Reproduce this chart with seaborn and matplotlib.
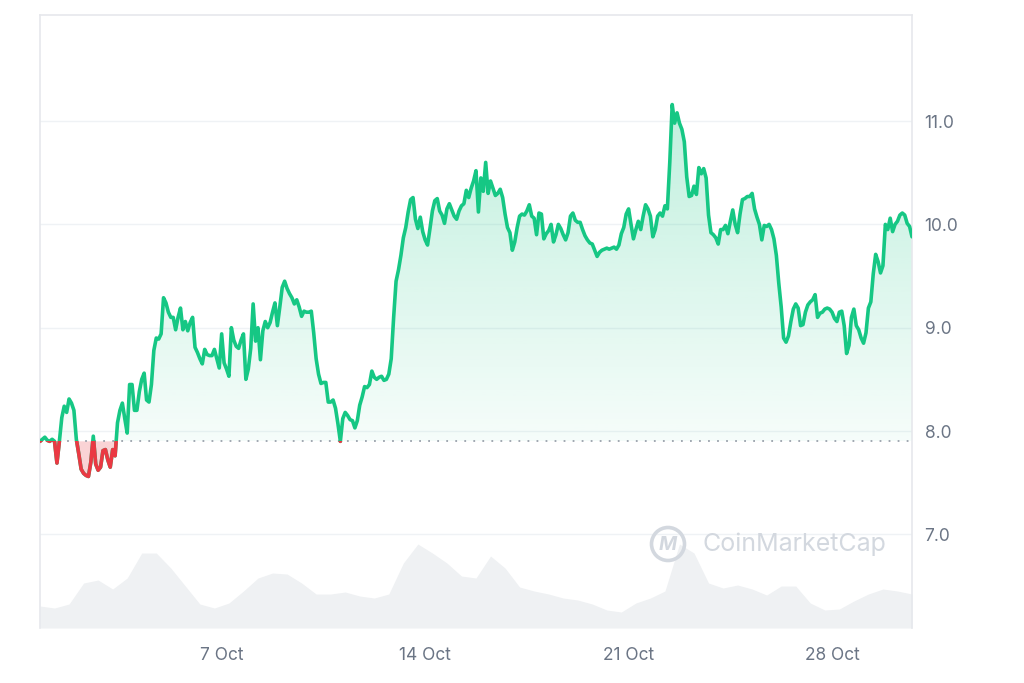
"""
Token price chart, October (CoinMarketCap style)
"""
import numpy as np
import pandas as pd
import matplotlib
matplotlib.use('Agg')
import matplotlib.pyplot as plt
import matplotlib.dates as mdates
from matplotlib.patches import Rectangle, Circle
from matplotlib.path import Path
from matplotlib.colors import to_rgb
import seaborn as sns

# ── data ──────────────────────────────────────────────────────────
START = '2023-09-30 18:00'

# 2-hourly price
price = [7.90, 7.92, 7.94, 7.91, 7.90, 7.92, 7.90, 7.69, 7.90, 8.13,
         8.24, 8.18, 8.31, 8.27, 8.20, 7.92, 7.78, 7.63, 7.59, 7.57,
         7.56, 7.70, 7.95, 7.68, 7.62, 7.65, 7.81, 7.82, 7.72, 7.65,
         7.82, 7.76, 8.08, 8.20, 8.27, 8.12, 7.98, 8.45, 8.45, 8.20,
         8.20, 8.38, 8.50, 8.56, 8.30, 8.28, 8.45, 8.78, 8.90, 8.89,
         8.94, 9.29, 9.24, 9.15, 9.10, 9.10, 8.98, 9.10, 9.19, 8.98,
         9.06, 8.97, 9.05, 9.10, 8.81, 8.76, 8.70, 8.65, 8.79, 8.74,
         8.73, 8.73, 8.79, 8.70, 8.61, 8.94, 8.66, 8.60, 8.53, 9.00,
         8.88, 8.82, 8.80, 8.88, 8.94, 8.50, 8.60, 8.80, 9.23, 8.87,
         9.00, 8.69, 8.97, 9.06, 9.00, 9.05, 9.15, 9.24, 9.02, 9.20,
         9.39, 9.45, 9.38, 9.33, 9.29, 9.23, 9.27, 9.20, 9.11, 9.16,
         9.15, 9.15, 9.16, 8.95, 8.70, 8.55, 8.46, 8.47, 8.47, 8.28,
         8.28, 8.30, 8.22, 8.07, 7.90, 8.12, 8.18, 8.15, 8.11, 8.10,
         8.03, 8.10, 8.25, 8.33, 8.43, 8.42, 8.45, 8.58, 8.52, 8.50,
         8.52, 8.53, 8.49, 8.50, 8.55, 8.70, 9.10, 9.45, 9.56, 9.70,
         9.87, 9.97, 10.12, 10.24, 10.26, 10.05, 9.96, 10.07, 9.93, 9.85,
         9.80, 9.96, 10.13, 10.23, 10.25, 10.13, 10.09, 10.01, 10.15, 10.20,
         10.14, 10.08, 10.05, 10.13, 10.18, 10.20, 10.33, 10.26, 10.35, 10.42,
         10.52, 10.12, 10.45, 10.32, 10.60, 10.30, 10.42, 10.35, 10.28, 10.30,
         10.34, 10.26, 10.10, 9.97, 9.92, 9.75, 9.83, 9.97, 10.08, 10.10,
         10.09, 10.13, 10.19, 10.08, 10.06, 9.90, 10.11, 10.10, 9.86, 9.91,
         9.94, 10.00, 9.83, 9.90, 10.00, 9.96, 9.90, 9.85, 9.92, 10.08,
         10.11, 10.04, 10.02, 10.02, 9.95, 9.89, 9.85, 9.82, 9.81, 9.75,
         9.69, 9.73, 9.75, 9.76, 9.77, 9.76, 9.77, 9.78, 9.76, 9.80,
         9.91, 9.97, 10.10, 10.15, 10.00, 9.86, 9.95, 10.03, 9.95, 10.08,
         10.19, 10.15, 10.08, 9.88, 9.95, 10.08, 10.11, 10.08, 10.18, 10.15,
         10.60, 11.16, 10.98, 11.08, 10.98, 10.92, 10.80, 10.46, 10.27, 10.28,
         10.37, 10.29, 10.55, 10.49, 10.54, 10.45, 10.09, 9.92, 9.90, 9.87,
         9.81, 9.95, 9.95, 9.99, 9.91, 10.03, 10.14, 10.00, 9.92, 10.10,
         10.24, 10.25, 10.27, 10.27, 10.30, 10.15, 10.07, 10.00, 9.85, 9.99,
         9.98, 10.00, 9.95, 9.86, 9.70, 9.43, 9.20, 8.90, 8.86, 8.92,
         9.06, 9.18, 9.23, 9.19, 9.02, 9.03, 9.15, 9.22, 9.25, 9.27,
         9.32, 9.10, 9.14, 9.15, 9.18, 9.19, 9.18, 9.15, 9.09, 9.06,
         9.15, 9.16, 9.02, 8.75, 8.83, 9.10, 9.18, 9.02, 8.98, 8.90,
         8.85, 8.95, 9.19, 9.25, 9.52, 9.71, 9.64, 9.53, 9.60, 10.00,
         9.95, 10.06, 9.93, 10.00, 10.03, 10.09, 10.11, 10.09, 10.01, 9.98,
         9.88]

# 12-hourly volume, relative units
volume = [22, 20, 24, 45, 48, 39, 50, 75, 75, 60,
          42, 24, 20, 25, 37, 50, 55, 54, 45, 34,
          34, 36, 32, 30, 34, 65, 84, 75, 65, 52,
          50, 72, 60, 41, 37, 34, 30, 28, 24, 18,
          16, 25, 30, 37, 84, 75, 45, 40, 43, 39,
          33, 42, 42, 25, 18, 19, 27, 34, 39, 37,
          34]

BASELINE = 7.90
YTICKS = [7.0, 8.0, 9.0, 10.0, 11.0]
XTICKS = ['2023-10-07', '2023-10-14', '2023-10-21', '2023-10-28']
XTICK_LABELS = ['7 Oct', '14 Oct', '21 Oct', '28 Oct']

PAL = {'green': '#16c784', 'red': '#ea3943', 'txt': '#6b7585',
       'grid': '#eff2f5', 'spine': '#e6e8ec', 'vol': '#eff1f3',
       'dots': '#9aa1ab', 'mark': '#d3d8df'}

sns.set_theme(style='white')
plt.rcParams['font.family'] = ['Inter', 'DejaVu Sans']

df = pd.DataFrame({'time': pd.date_range(START, periods=len(price), freq='2h'),
                   'price': price})
vol = pd.DataFrame({'time': pd.date_range(START, periods=len(volume), freq='12h'),
                    'volume': volume})

fig = plt.figure(figsize=(10.24, 6.83), dpi=100)
rect = [40 / 1024, 55 / 683, 872 / 1024, 613 / 683]
axv = fig.add_axes(rect)
ax = fig.add_axes(rect, sharex=axv)
ax.patch.set_alpha(0)

# ── volume area ───────────────────────────────────────────────────
axv.fill_between(vol['time'], vol['volume'], color=PAL['vol'], lw=0)
axv.set_ylim(0, max(volume) * 7.3)
axv.set_yticks([])
axv.tick_params(axis='x', length=0, labelbottom=False)
for s in axv.spines.values():
    s.set_visible(False)

# ── price ─────────────────────────────────────────────────────────
YMIN, YMAX = 6.093, 12.027
x0, x1 = mdates.date2num(df['time'].iloc[0]), mdates.date2num(df['time'].iloc[-1])

ax.grid(axis='y', color=PAL['grid'], lw=1)
ax.grid(axis='x', visible=False)

# green gradient under the line (down to the baseline)
p = df['price'].to_numpy()
poly = ax.fill_between(df['time'], p, BASELINE, where=p >= BASELINE,
                       interpolate=True, facecolor='none', lw=0)
clip = Path.make_compound_path(*poly.get_paths())
grad = np.zeros((256, 1, 4))
grad[..., :3] = to_rgb(PAL['green'])
grad[..., 3] = np.linspace(0.28, 0.04, 256)[:, None]
im = ax.imshow(grad, extent=[x0, x1, BASELINE, 11.3], aspect='auto',
               origin='upper', zorder=1)
im.set_clip_path(clip, transform=ax.transData)

# red area above the line where price is under the baseline
ax.fill_between(df['time'], p, BASELINE, where=p < BASELINE,
                interpolate=True, color=PAL['red'], alpha=0.22, lw=0, zorder=1)

ax.axhline(BASELINE, color=PAL['dots'], ls=(0, (1, 4)), lw=1.3, zorder=2)

sns.lineplot(data=df, x='time', y='price', color=PAL['green'], lw=2.6, ax=ax,
             zorder=3)
sns.lineplot(data=df, x='time', y='price', color=PAL['red'], lw=2.6, ax=ax,
             zorder=4)
red_line = ax.lines[-1]
red_line.set_clip_path(Rectangle((x0, YMIN), x1 - x0, BASELINE - YMIN,
                                 transform=ax.transData))

ax.set_xlim(x0, x1)
ax.set_ylim(YMIN, YMAX)
ax.set_xlabel('')
ax.set_ylabel('')

ax.yaxis.tick_right()
ax.set_yticks(YTICKS)
ax.set_yticklabels([f'{v:.1f}' for v in YTICKS])
ax.set_xticks(mdates.date2num(pd.to_datetime(XTICKS)))
ax.set_xticklabels(XTICK_LABELS)
ax.tick_params(axis='y', length=0, pad=9, labelsize=12.5, colors=PAL['txt'])
ax.tick_params(axis='x', length=0, pad=14, labelsize=12.5, colors=PAL['txt'])

for side in ['top', 'left', 'right']:
    ax.spines[side].set_color(PAL['spine'])
    ax.spines[side].set_linewidth(1.2)
ax.spines['bottom'].set_visible(False)

# ── watermark ─────────────────────────────────────────────────────
fig.add_artist(Circle((6.68, 1.39), 0.165, transform=fig.dpi_scale_trans,
                      fill=False, ec=PAL['mark'], lw=2.6))
fig.text(6.68, 1.385, 'M', transform=fig.dpi_scale_trans, ha='center',
         va='center', fontsize=14, fontweight='bold', style='italic',
         color=PAL['mark'])
fig.text(7.02, 1.385, 'CoinMarketCap', transform=fig.dpi_scale_trans,
         ha='left', va='center', fontsize=18, fontweight='normal',
         color=PAL['mark'])

fig.savefig('out.png', dpi=100, facecolor='white')
